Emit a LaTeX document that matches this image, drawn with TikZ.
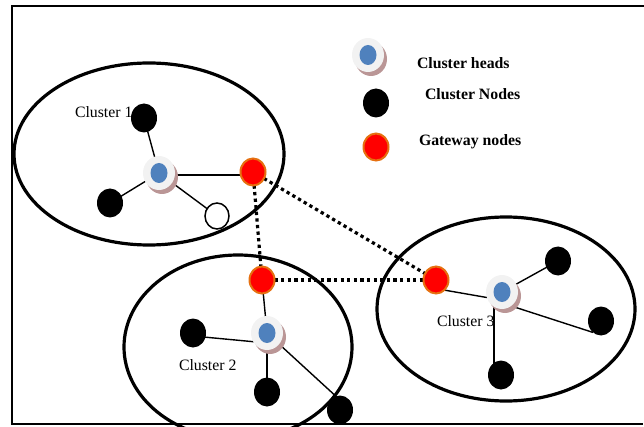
\documentclass[tikz,border=0pt]{standalone}
\usepackage{fontspec}
\setmainfont{Liberation Serif}
\usetikzlibrary{shapes.geometric,shadows}
\definecolor{headblue}{RGB}{79,129,189}
\definecolor{headgrey}{RGB}{242,242,242}
\definecolor{headshadow}{RGB}{186,150,150}
\definecolor{gwred}{RGB}{255,0,0}
\definecolor{gwedge}{RGB}{230,112,16}
\pgfdeclarelayer{bg}
\pgfsetlayers{bg,main}
\begin{document}
\begin{tikzpicture}[x=1pt,y=-1pt,
  every node/.style={inner sep=0pt, outer sep=0pt},
  head/.style={ellipse, minimum width=32pt, minimum height=34pt, fill=headgrey,
    drop shadow={shadow xshift=3pt, shadow yshift=-4pt, fill=headshadow, opacity=1},
    path picture={\fill[headblue] (path picture bounding box.center)
      ellipse [x radius=8.5pt, y radius=10pt];}},
  member/.style={ellipse, minimum width=26pt, minimum height=29pt, fill=black},
  idle/.style={ellipse, minimum width=24pt, minimum height=26pt, fill=white,
    draw=black, line width=1.5pt},
  gateway/.style={ellipse, minimum width=25pt, minimum height=27pt, fill=gwred,
    draw=gwedge, line width=2pt},
  cluster/.style={draw, line width=3.2pt},
  link/.style={line width=1.4pt},
  relay/.style={line width=3.2pt, dash pattern=on 3.3pt off 3.3pt},
  tag/.style={font=\fontsize{15.8}{18}\selectfont, anchor=base west},
  legendtext/.style={font=\fontsize{15.8}{18}\selectfont\bfseries, anchor=base west}]

\useasboundingbox (0,0) rectangle (644,427);

% frame (open on the right)
\draw[line width=2pt] (644,6) -- (12,6) -- (12,423.5) -- (643,423.5);

% cluster 1
\node[head]    (h1)  at (159,173) {};
\node[member]  (k1a) at (144,118) {};
\node[member]  (k1b) at (110,203) {};
\node[idle]    (w1)  at (217,216) {};
\node[gateway] (r1)  at (253,172) {};

% cluster 2
\node[head]    (h2)  at (267,333) {};
\node[member]  (k2a) at (193,333) {};
\node[member]  (k2b) at (267,392) {};
\node[member]  (k2c) at (340,410) {};
\node[gateway] (r2)  at (262,280) {};

% cluster 3
\node[head]    (h3)  at (502,292) {};
\node[member]  (k3a) at (558,261) {};
\node[member]  (k3b) at (601,321) {};
\node[member]  (k3c) at (501,375) {};
\node[gateway] (r3)  at (436,280) {};

% legend
\node[head]    (lh) at (368,55)  {};
\node[member]  (lk) at (376,103) {};
\node[gateway] (lr) at (376,147) {};
\node[legendtext] (lt1) at (417,68.3) {Cluster heads};
\node[legendtext] (lt2) at (425,100)  {Cluster Nodes};
\node[legendtext] (lt3) at (419,146)  {Gateway nodes};

\begin{pgfonlayer}{bg}
  \begin{scope}
    \clip (0,0) rectangle (644,427);
    \draw[cluster] (149,154) ellipse [x radius=135pt, y radius=91pt];
    \draw[cluster] (238,347) ellipse [x radius=114pt, y radius=92pt];
    \draw[cluster] (506,309) ellipse [x radius=129pt, y radius=92pt];
  \end{scope}

  \node[tag] (t1) at (75,117.3) {Cluster 1};
  \node[tag] (t2) at (179,370)  {Cluster 2};
  \node[tag] (t3) at (437,326)  {Cluster 3};

  % links inside the clusters
  \draw[link] (h1.center) -- (k1a.center);
  \draw[link] (h1.center) -- (k1b.center);
  \draw[link] (h1.center) -- (w1.center);
  \draw[link] ([shift={(0,2)}]h1.center) -- ([shift={(0,3)}]r1.center);

  \draw[link] (r2.center) -- (h2.center);
  \draw[link] ([shift={(0,3)}]k2a.center) -- ([shift={(0,10)}]h2.center);
  \draw[link] (h2.center) -- (k2b.center);
  \draw[link] (h2.center) -- ([shift={(0,-10)}]k2c.center);

  \draw[link] ([shift={(2,9)}]r3.center) -- (h3.200);
  \draw[link] (h3.center) -- (k3a.center);
  \draw[link] ([shift={(0,11)}]h3.center) -- (k3b.235);
  \draw[link] ([xshift=-8pt]h3.center) -- ([xshift=-7pt]k3c.center);

  % gateway relays
  \draw[relay] (r1) -- (r2);
  \draw[relay] (r1) -- (r3);
  \draw[relay] (r2) -- (r3);
\end{pgfonlayer}
\end{tikzpicture}
\end{document}
